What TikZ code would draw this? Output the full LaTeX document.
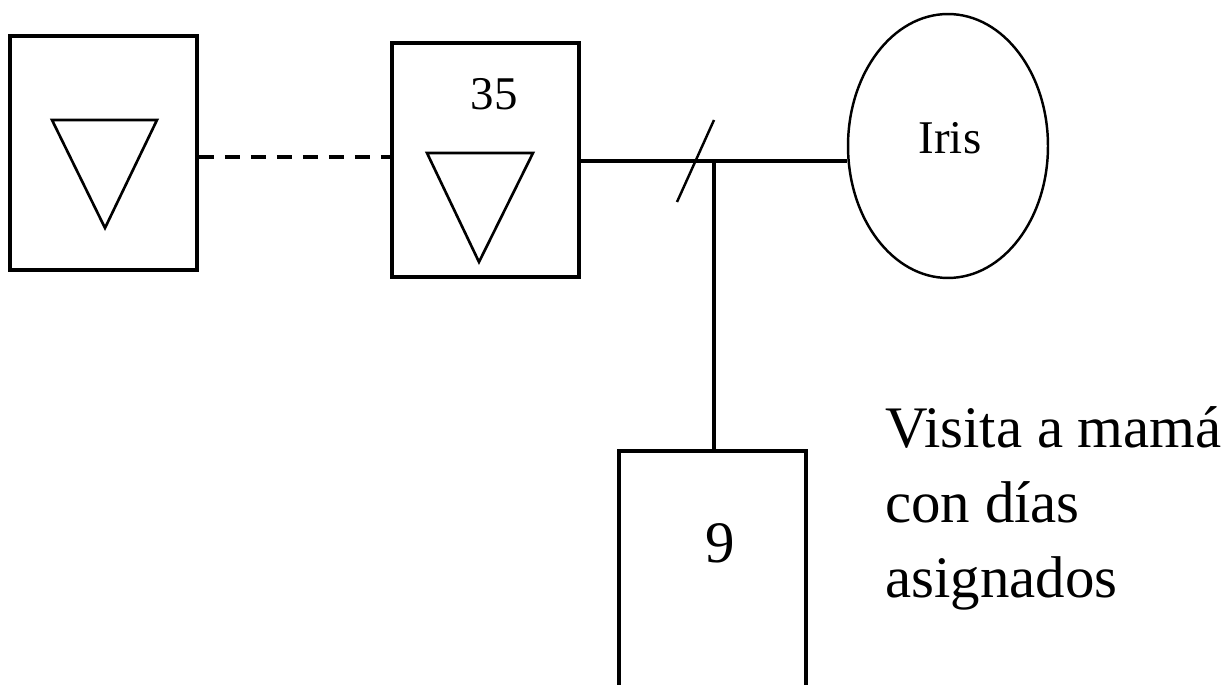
\documentclass[tikz,border=0pt]{standalone}
\usepackage{fontspec}
\setmainfont{Liberation Serif}
\usetikzlibrary{shapes.geometric}

\begin{document}
\begin{tikzpicture}[x=0.02cm, y=-0.02cm]
    \tikzstyle{male box}=[draw, line width=0.08cm, minimum width=3.74cm, minimum height=4.68cm, inner sep=0pt]
    \tikzstyle{female node}=[draw, ellipse, line width=1.4pt, minimum width=4cm, minimum height=5.28cm, inner sep=0pt]
    \tikzstyle{tie}=[line width=0.08cm]
    \tikzstyle{big text}=[font=\fontsize{33.5}{42.7}\selectfont, inner sep=0pt]
    \tikzstyle{small text}=[font=\fontsize{26.7}{32}\selectfont, inner sep=0pt]
    \useasboundingbox (0,0) rectangle (1231,685);

    % personas
    \node[male box] (grandpa) at (103.5,153) {};
    \node[male box] (dad) at (485.5,160) {};
    \node[female node] (iris) at (948,146) {};
    \node[male box, minimum height=5.4cm] (kid) at (712.5,586) {};

    % textos
    \node[small text] (age) at (494,94) {35};
    \node[small text] (irisname) at (950,138) {Iris};
    \node[big text] (kidage) at (720,543) {9};
    \node[big text, anchor=base west, align=left] (visit) at (885,598) {Visita a mamá\\con días\\asignados};

    % triangulos
    \draw[line width=1.5pt] (52,120) -- (157,120) -- (105,228) -- cycle;
    \draw[line width=1.5pt] (427,153) -- (533,153) -- (479,262) -- cycle;

    % relaciones
    \coordinate (jn) at (714,161);
    \draw[line width=0.07cm, dash pattern=on 0.3cm off 0.22cm] (grandpa.east |- 0,157) -- (dad.west |- 0,157);
    \draw[tie] (dad.east |- jn) -- (jn) -- (jn -| iris.west);
    \draw[tie] (jn) -- (jn |- kid.north);
    \draw[line width=1.4pt] (677,202) -- (714,120);
\end{tikzpicture}
\end{document}
